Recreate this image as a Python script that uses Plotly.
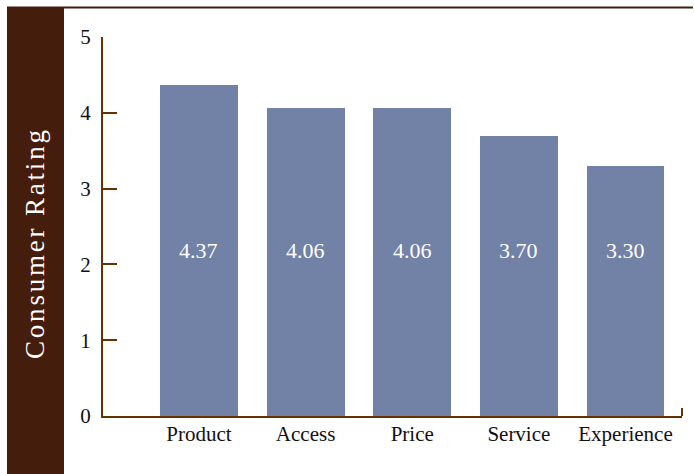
import plotly.graph_objects as go

categories = ["Product", "Access", "Price", "Service", "Experience"]
ratings = [4.37, 4.06, 4.06, 3.70, 3.30]
value_labels = ["4.37", "4.06", "4.06", "3.70", "3.30"]
y_ticks = [0, 1, 2, 3, 4, 5]

BROWN_PANEL = "#451d0c"
AXIS_BROWN = "#663300"
BAR = "#7281a6"
SERIF = "Liberation Serif, DejaVu Serif, serif"

W, H = 694, 474
L, R, T, B = 103, 12, 37, 58
pw, ph = W - L - R, H - T - B

def px_x(p):
    return (p - L) / pw

def px_y(p):
    return (H - B - p) / ph

fig = go.Figure()
fig.add_trace(go.Bar(
    x=list(range(len(categories))), y=ratings,
    marker=dict(color=BAR, line=dict(width=0)),
    width=0.73, hoverinfo="skip",
))

annotations = []
for i, lab in enumerate(value_labels):
    annotations.append(dict(x=i, y=2.19, xref="x", yref="y", text=lab,
                            showarrow=False,
                            font=dict(family=SERIF, size=22, color="white")))
annotations.append(dict(
    x=px_x(35), y=px_y(243), xref="paper", yref="paper",
    xanchor="center", yanchor="middle",
    text='<span style="letter-spacing:2.8px">Consumer Rating</span>',
    textangle=-90, showarrow=False,
    font=dict(family=SERIF, size=27, color="white")))

shapes = [
    dict(type="rect", xref="paper", yref="paper",
         x0=px_x(7), x1=px_x(64), y0=px_y(480), y1=px_y(7),
         fillcolor=BROWN_PANEL, line=dict(width=0), layer="below"),
    dict(type="line", xref="paper", yref="paper",
         x0=px_x(7), x1=px_x(693), y0=px_y(7.5), y1=px_y(7.5),
         line=dict(color=BROWN_PANEL, width=2)),
    dict(type="line", xref="paper", yref="paper",
         x0=1, x1=1, y0=0, y1=px_y(408),
         line=dict(color=AXIS_BROWN, width=2)),
]

fig.update_layout(
    width=W, height=H,
    margin=dict(l=L, r=R, t=T, b=B),
    paper_bgcolor="white", plot_bgcolor="white",
    showlegend=False,
    annotations=annotations, shapes=shapes,
    bargap=0,
    xaxis=dict(
        range=[-0.9, 4.53], tickvals=list(range(len(categories))),
        ticktext=categories, showgrid=False, zeroline=False,
        showline=True, linecolor=AXIS_BROWN, linewidth=2,
        ticks="", tickfont=dict(family=SERIF, size=21, color="#111"),
        ticklabelstandoff=-2, fixedrange=True,
    ),
    yaxis=dict(
        range=[0, 5], tickvals=y_ticks, showgrid=False, zeroline=False,
        showline=True, linecolor=AXIS_BROWN, linewidth=2,
        ticks="inside", ticklen=14, tickwidth=2, tickcolor=AXIS_BROWN,
        tickfont=dict(family=SERIF, size=21, color="#111"),
        ticklabelstandoff=6, fixedrange=True,
    ),
)

fig.write_html("out.html")
